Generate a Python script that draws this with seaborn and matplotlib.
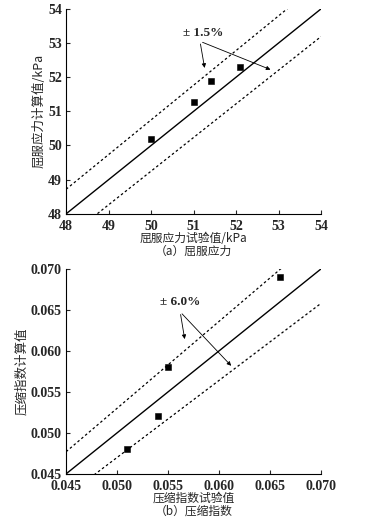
import matplotlib
matplotlib.use("Agg")
import matplotlib.pyplot as plt
import seaborn as sns
import numpy as np
import pandas as pd

# (a) yield stress, kPa
ys_test = [50.0, 51.0, 51.4, 52.1]
ys_calc = [50.2, 51.28, 51.9, 52.3]
ys_ticks = [48, 49, 50, 51, 52, 53, 54]
ys_band = 0.015

# (b) compression index
ci_test = [0.051, 0.054, 0.055, 0.066]
ci_calc = [0.048, 0.052, 0.058, 0.069]
ci_ticks = [0.045, 0.050, 0.055, 0.060, 0.065, 0.070]
ci_band = 0.06

sns.set_theme(style="ticks")
plt.rcParams["font.family"] = ["Liberation Serif", "Noto Sans CJK SC"]

cjk = ["Noto Sans CJK SC", "Liberation Serif"]

fig = plt.figure(figsize=(3.8, 5.19), dpi=100)
ax1 = fig.add_axes([0.174, 0.588, 0.671, 0.395])
ax2 = fig.add_axes([0.174, 0.087, 0.671, 0.395])


def panel(ax, xs, ys, ticks, band, fmt, xlabel, ylabel, caption,
          label, text_xy, arrow_start, end1, end2):
    lo, hi = ticks[0], ticks[-1]
    line = np.array([lo, hi])
    sns.lineplot(x=line, y=line, ax=ax, color="black", lw=1.0)
    sns.lineplot(x=line, y=line * (1 + band), ax=ax, color="black",
                 lw=0.9, linestyle=(0, (2, 2)))
    sns.lineplot(x=line, y=line * (1 - band), ax=ax, color="black",
                 lw=0.9, linestyle=(0, (2, 2)))
    df = pd.DataFrame({"x": xs, "y": ys})
    sns.scatterplot(data=df, x="x", y="y", ax=ax, marker="s", s=24,
                    color="black", edgecolor="black", zorder=5)
    ax.set_xlim(lo, hi)
    ax.set_ylim(lo, hi)
    ax.set_xticks(ticks)
    ax.set_yticks(ticks)
    ax.set_xticklabels([fmt.format(t) for t in ticks], fontweight="bold")
    ax.set_yticklabels([fmt.format(t) for t in ticks], fontweight="bold")
    ax.tick_params(direction="in", length=3, width=0.8, labelsize=10)
    ax.tick_params(axis="x", pad=4.5)
    ax.tick_params(axis="y", pad=3)
    for s in ["top", "right"]:
        ax.spines[s].set_visible(False)
    for s in ["left", "bottom"]:
        ax.spines[s].set_linewidth(0.8)
        ax.spines[s].set_color("black")
    ax.set_xlabel(xlabel, fontsize=8.5, family=cjk, labelpad=-1)
    ax.set_ylabel(ylabel, fontsize=9, family=cjk, labelpad=2)
    ax.text(0.5, -0.182, caption, transform=ax.transAxes, ha="center",
            va="center", fontsize=8.5, family=cjk)
    ax.text(text_xy[0], text_xy[1], label, ha="center", va="center",
            fontsize=9.5, fontweight="bold")
    for end in (end1, end2):
        ax.annotate("", xy=end, xytext=arrow_start,
                    arrowprops=dict(arrowstyle="-|>", color="black",
                                    lw=0.6, mutation_scale=6))


panel(ax1, ys_test, ys_calc, ys_ticks, ys_band, "{:.0f}",
      "屈服应力试验值/kPa", "屈服应力计算值/kPa", "（a）屈服应力",
      "± 1.5%", (51.22, 53.3), (51.15, 53.05), (51.27, 52.19),
      (52.87, 52.19))
panel(ax2, ci_test, ci_calc, ci_ticks, ci_band, "{:.3f}",
      "压缩指数试验值", "压缩指数计算值", "（b）压缩指数",
      "± 6.0%", (0.0562, 0.0659), (0.05618, 0.06476), (0.05667, 0.0611),
      (0.06137, 0.05793))

fig.savefig("out.png", dpi=100, facecolor="white")
